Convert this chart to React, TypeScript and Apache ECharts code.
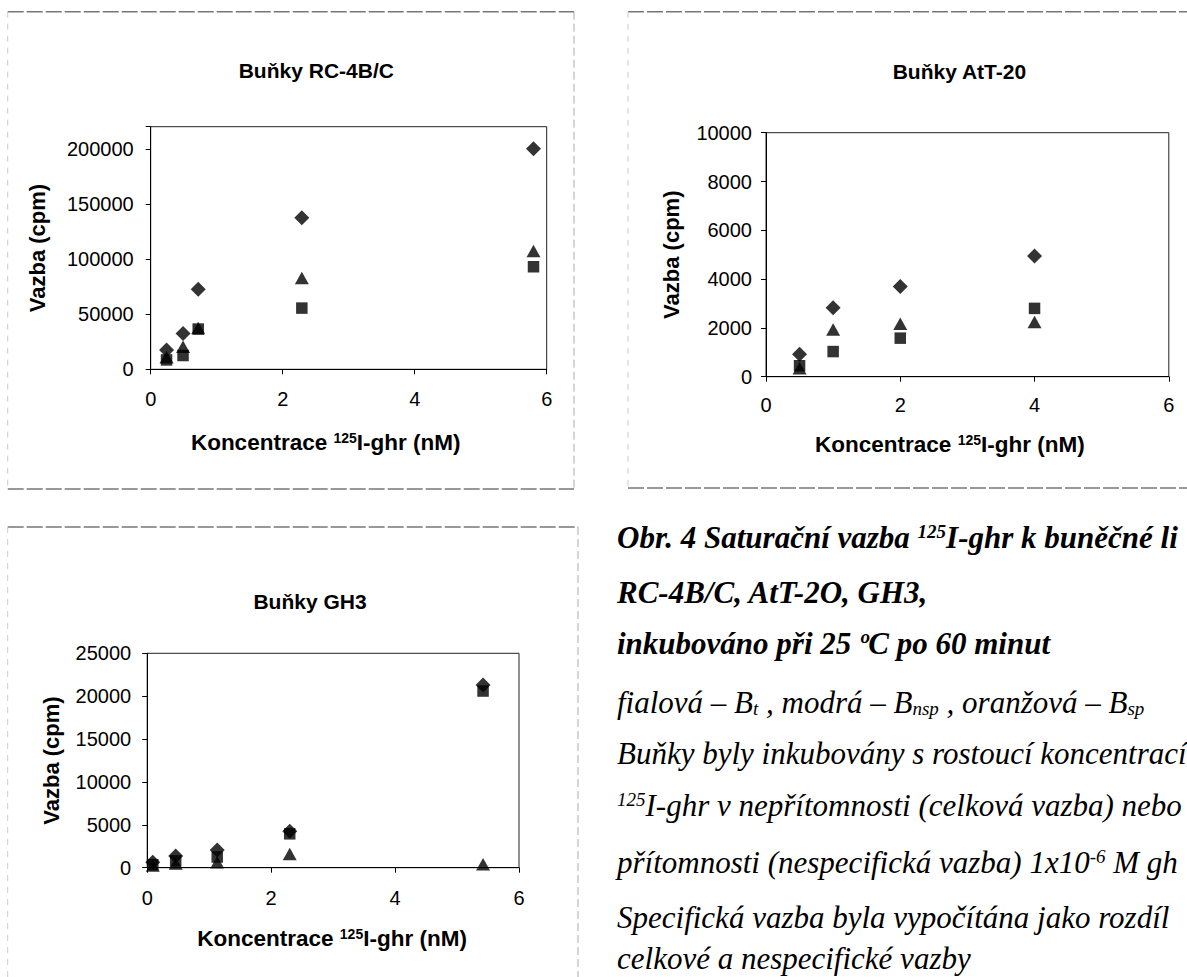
import React, { useEffect, useRef } from 'react';
import * as echarts from 'echarts';

// ---------- data ----------
// Buňky RC-4B/C
const rcX = [0.24, 0.49, 0.72, 2.29, 5.8];
const rcBt = [17500, 32500, 72500, 137500, 200000];
const rcBnsp = [8500, 12500, 36500, 55500, 93000];
const rcBsp = [11000, 20500, 37500, 82800, 107200];

// Buňky AtT-20
const attX = [0.5, 1, 2, 4];
const attBt = [925, 2830, 3700, 4950];
const attBnsp = [450, 1030, 1580, 2800];
const attBsp = [350, 1935, 2170, 2240];

// Buňky GH3
const gh3X = [0.09, 0.46, 1.13, 2.3, 5.42];
const gh3Bt = [650, 1350, 2050, 4250, 21300];
const gh3Bnsp = [350, 800, 1250, 3950, 20600];
const gh3Bsp = [250, 500, 650, 1600, 400];

const titles = ['Buňky RC-4B/C', 'Buňky AtT-20', 'Buňky GH3'];
const xName = 'Koncentrace {sup|125}I-ghr (nM)';
const yName = 'Vazba (cpm)';

const captionLines = [
  { text: 'Obr. 4 Saturační vazba {bsup|125}I-ghr k buněčné li', bold: true },
  { text: 'RC-4B/C, AtT-2O, GH3,', bold: true },
  { text: 'inkubováno při 25 ºC po 60 minut', bold: true },
  { text: 'fialová – B{sub|t} , modrá – B{sub|nsp} , oranžová – B{sub|sp}', bold: false },
  { text: 'Buňky byly inkubovány s rostoucí koncentrací', bold: false },
  { text: '{sup|125}I-ghr v nepřítomnosti (celková vazba) nebo', bold: false },
  { text: 'přítomnosti (nespecifická vazba) 1x10{sup|-6} M gh', bold: false },
  { text: 'Specifická vazba byla vypočítána jako rozdíl', bold: false },
  { text: 'celkové a nespecifické vazby', bold: false },
];

const SANS = '"Liberation Sans", Arial, sans-serif';
const SERIF = '"Liberation Serif", "Times New Roman", serif';

function pairs(xs: number[], ys: number[]) {
  return xs.map((x, i) => [x, ys[i]]);
}

export default function App() {
  const ref = useRef<HTMLDivElement>(null);

  useEffect(() => {
    const chart = echarts.init(ref.current!, null, { renderer: 'svg' });

    const grids = [
      { left: 150.7, top: 126.7, width: 396, height: 242.6 },
      { left: 766, top: 132.7, width: 402.8, height: 244 },
      { left: 147.2, top: 653.3, width: 371.8, height: 214.4 },
    ];
    const yCfg = [
      { max: 220000, interval: 50000, top: 200000, margin: 17, gap: 102 },
      { max: 10000, interval: 2000, top: 10000, margin: 14, gap: 84 },
      { max: 25000, interval: 5000, top: 25000, margin: 16, gap: 85 },
    ];
    const xCfg = [
      { margin: 20, gap: 62, shift: 46 },
      { margin: 18, gap: 56, shift: 35 },
      { margin: 20, gap: 59, shift: 2 },
    ];
    const titlePos = [
      [316.3, 70.7],
      [959.4, 71.7],
      [310, 601.7],
    ];

    const axisLine = { show: true, onZero: false, lineStyle: { color: '#000', width: 1 } };
    const axisTick = { show: true, length: 5, lineStyle: { color: '#000', width: 1 } };

    const xAxes = grids.map((_, i) => ({
      type: 'value',
      gridIndex: i,
      min: 0,
      max: 6,
      interval: 2,
      name: xName,
      nameLocation: 'middle',
      nameGap: xCfg[i].gap,
      nameTextStyle: {
        fontFamily: SANS,
        fontWeight: 'bold',
        fontSize: 22.5,
        color: '#000',
        padding: [0, xCfg[i].shift, 0, 0],
        rich: {
          sup: {
            fontFamily: SANS,
            fontWeight: 'bold',
            fontSize: 14,
            color: '#000',
            verticalAlign: 'top',
          },
        },
      },
      axisLine,
      axisTick,
      axisLabel: { margin: xCfg[i].margin, fontSize: 20, color: '#000', fontFamily: SANS },
      splitLine: { show: false },
    }));

    const yAxes = grids.map((_, i) => ({
      type: 'value',
      gridIndex: i,
      min: 0,
      max: yCfg[i].max,
      interval: yCfg[i].interval,
      name: yName,
      nameLocation: 'middle',
      nameGap: yCfg[i].gap,
      nameTextStyle: { fontFamily: SANS, fontWeight: 'bold', fontSize: 22, color: '#000' },
      axisLine,
      axisTick,
      axisLabel: {
        margin: yCfg[i].margin,
        fontSize: 20,
        color: '#000',
        fontFamily: SANS,
        formatter: (v: number) => (v > yCfg[i].top ? '' : String(v)),
      },
      splitLine: { show: false },
    }));

    const sets = [
      [rcX, rcBt, rcBnsp, rcBsp],
      [attX, attBt, attBnsp, attBsp],
      [gh3X, gh3Bt, gh3Bnsp, gh3Bsp],
    ];
    const names = ['Bt', 'Bnsp', 'Bsp'];
    const symbols = ['diamond', 'rect', 'triangle'];
    const sizes: any[] = [[15, 15], [11.5, 11.5], [14, 12.5]];

    const series: any[] = [];
    sets.forEach((s, gi) => {
      [1, 2, 3].forEach((k, si) => {
        series.push({
          type: 'scatter',
          name: names[si],
          xAxisIndex: gi,
          yAxisIndex: gi,
          data: pairs(s[0] as number[], s[k] as number[]),
          symbol: symbols[si],
          symbolSize: sizes[si],
          itemStyle: { color: '#000' },
          z: 3 + si,
        });
      });
    });

    const graphics: any[] = [];
    // panel frames
    const frame = (x1: number, y1: number, x2: number, y2: number, color: string, dash: number[], w = 1.5) =>
      graphics.push({
        type: 'line',
        silent: true,
        shape: { x1, y1, x2, y2 },
        style: { stroke: color, lineWidth: w, lineDash: dash },
      });
    frame(7.7, 11.7, 574, 11.7, '#777', [16, 3]);
    frame(7.7, 489, 574, 489, '#777', [16, 3]);
    frame(574, 11.7, 574, 489, '#aaa', [8, 4], 1);
    frame(7.7, 11.7, 7.7, 489, '#ccc', [6, 6], 1);
    frame(628, 11.7, 1187, 11.7, '#777', [16, 3]);
    frame(628, 488, 1187, 488, '#777', [16, 3]);
    frame(628, 11.7, 628, 488, '#ccc', [6, 6], 1);
    frame(7.7, 527, 578, 527, '#777', [16, 3]);
    frame(578, 527, 578, 977, '#aaa', [8, 4], 1);
    frame(7.7, 527, 7.7, 977, '#ccc', [6, 6], 1);

    // chart titles
    titles.forEach((t, i) =>
      graphics.push({
        type: 'text',
        x: titlePos[i][0],
        y: titlePos[i][1],
        style: {
          text: t,
          fill: '#000',
          fontFamily: SANS,
          fontWeight: 'bold',
          fontSize: 21,
          align: 'center',
          verticalAlign: 'middle',
          textAlign: 'center',
          textVerticalAlign: 'middle',
        },
      })
    );

    // caption
    const baselines = [546.7, 601.7, 653.3, 711.7, 763.3, 815, 871.7, 926.7, 968];
    captionLines.forEach((ln, i) => {
      const weight = ln.bold ? 'bold' : 'normal';
      const tok = (size: number, va: string) => ({
        fontFamily: SERIF,
        fontStyle: 'italic',
        fontWeight: weight,
        fontSize: size,
        fill: '#000',
        verticalAlign: va,
      });
      graphics.push({
        type: 'text',
        x: 617,
        y: baselines[i] - 9.5,
        style: {
          text: ln.text,
          fill: '#000',
          fontFamily: SERIF,
          fontStyle: 'italic',
          fontWeight: weight,
          fontSize: 31,
          align: 'left',
          verticalAlign: 'middle',
          textAlign: 'left',
          textVerticalAlign: 'middle',
          rich: {
            sup: tok(19, 'top'),
            bsup: tok(19, 'top'),
            sub: tok(19, 'bottom'),
          },
        },
      });
    });

    chart.setOption({
      animation: false,
      backgroundColor: '#fff',
      grid: grids.map((g) => ({ ...g, show: true, borderColor: '#222', borderWidth: 1, containLabel: false })),
      xAxis: xAxes,
      yAxis: yAxes,
      series,
      graphic: graphics,
    });

    return () => chart.dispose();
  }, []);

  return (
    <div
      ref={ref}
      style={{ position: 'absolute', left: 0, top: 0, width: 1187, height: 977, background: '#fff' }}
    />
  );
}
